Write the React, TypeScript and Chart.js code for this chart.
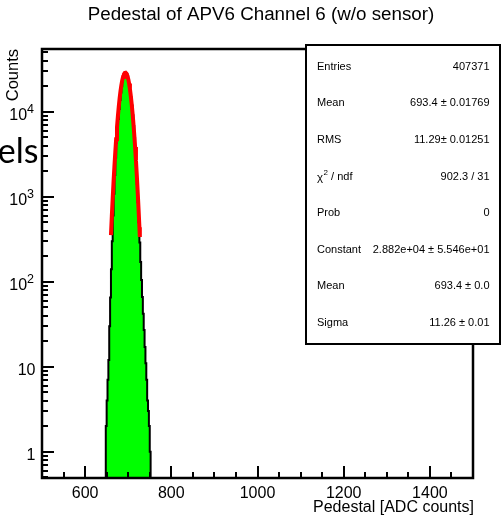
import React, { useEffect, useRef } from "react";
import { Chart, registerables } from "chart.js";

Chart.register(...registerables);

const titleText = "Pedestal of APV6 Channel 6 (w/o sensor)";
const xTitle = "Pedestal [ADC counts]";
const yTitle = "Counts";
const sideText = "els";

const xMin = 500;
const xMax = 1500;
const yMin = 0.49;
const yMax = 54700;

const xMajorTicks = [600, 800, 1000, 1200, 1400];
const xMinorTicks = [550, 650, 700, 750, 850, 900, 950, 1050, 1100, 1150, 1250, 1300, 1350, 1450];
const yMajorTicks = [1, 10, 100, 1000, 10000];
const yTickBase = ["1", "10", "10", "10", "10"];
const yTickExp = ["", "", "2", "3", "4"];

// histogram: lower bin edge + width, counts per bin
const binLow = 648;
const binWidth = 2;
const binCounts = [
  2, 4, 7, 12, 30, 65, 140, 300, 600, 1080,
  1800, 2900, 4300, 6100, 8200, 10800, 13700, 16800, 19900, 22900,
  25400, 27300, 28400, 28600, 27700, 26000, 23600, 20800, 17800, 14700,
  11800, 9100, 6800, 4900, 3400, 2250, 1420, 860, 500, 290,
  170, 105, 66, 42, 27, 17, 11, 7, 4, 3,
  2, 1,
];

// gaussian fit curve (sampled)
const fitX = [
  660, 662, 664, 666, 668, 670, 672, 674, 676, 678,
  680, 682, 684, 686, 688, 690, 692, 694, 696, 698,
  700, 702, 704, 706, 708, 710, 712, 714, 716, 718,
  720, 722, 724, 726, 727,
];
const fitY = [
  354, 590, 953, 1492, 2262, 3325, 4736, 6533, 8733, 11315,
  14195, 17263, 20339, 23224, 25690, 27535, 28598, 28780, 28062, 26512,
  24272, 21526, 18506, 15408, 12433, 9724, 7366, 5410, 3845, 2649,
  1770, 1144, 718, 436, 336,
];

const statLabels = ["Entries", "Mean", "RMS", "CHI2", "Prob", "Constant", "Mean", "Sigma"];
const statValues = [
  "407371",
  "693.4 \u00b1 0.01769",
  "11.29\u00b1 0.01251",
  "902.3 / 31",
  "0",
  "2.882e+04 \u00b1 5.546e+01",
  "693.4 \u00b1 0.0",
  "11.26 \u00b1 0.01",
];

const FONT = '"Liberation Sans", Arial, Helvetica, sans-serif';

const decorPlugin = {
  id: "decor",
  afterDatasetsDraw(chart: any) {
    const { ctx, chartArea: a, scales } = chart;
    const xs = scales.x;
    const ys = scales.y;
    ctx.save();
    ctx.strokeStyle = "#000";
    ctx.lineWidth = 2;
    // x ticks
    for (const v of xMajorTicks) {
      const px = Math.round(xs.getPixelForValue(v));
      ctx.beginPath();
      ctx.moveTo(px, a.bottom);
      ctx.lineTo(px, a.bottom - 12);
      ctx.stroke();
    }
    for (const v of xMinorTicks) {
      const px = Math.round(xs.getPixelForValue(v));
      ctx.beginPath();
      ctx.moveTo(px, a.bottom);
      ctx.lineTo(px, a.bottom - 6);
      ctx.stroke();
    }
    // y ticks (log)
    for (let e = -1; e <= 4; e++) {
      for (let k = 1; k <= 9; k++) {
        const v = k * Math.pow(10, e);
        if (v < yMin || v > yMax) continue;
        const py = Math.round(ys.getPixelForValue(v));
        ctx.beginPath();
        ctx.moveTo(a.left, py);
        ctx.lineTo(a.left + (k === 1 ? 12 : 6), py);
        ctx.stroke();
      }
    }
    // frame
    ctx.lineWidth = 2.5;
    ctx.strokeRect(a.left, a.top, a.right - a.left, a.bottom - a.top);
    ctx.restore();
  },
  afterDraw(chart: any) {
    const { ctx, chartArea: a, scales } = chart;
    const xs = scales.x;
    const ys = scales.y;
    ctx.save();
    ctx.fillStyle = "#000";

    // title
    ctx.font = `18.8px ${FONT}`;
    ctx.textAlign = "center";
    ctx.textBaseline = "alphabetic";
    ctx.fillText(titleText, 261, 20);

    // x tick labels
    ctx.font = `16px ${FONT}`;
    for (const v of xMajorTicks) {
      ctx.fillText(String(v), xs.getPixelForValue(v), 497.5);
    }
    // x title
    ctx.textAlign = "right";
    ctx.fillText(xTitle, a.right + 1, 511.5);

    // y tick labels
    for (let i = 0; i < yMajorTicks.length; i++) {
      const py = ys.getPixelForValue(yMajorTicks[i]);
      if (yTickExp[i]) {
        ctx.font = `12.5px ${FONT}`;
        const w = ctx.measureText(yTickExp[i]).width;
        ctx.textAlign = "right";
        ctx.fillText(yTickExp[i], 34, py + 1);
        ctx.font = `16px ${FONT}`;
        ctx.fillText(yTickBase[i], 34 - w, py + 8);
      } else {
        ctx.font = `16px ${FONT}`;
        ctx.textAlign = "right";
        ctx.fillText(yTickBase[i], 35.5, py + 8);
      }
    }

    // y title (rotated)
    ctx.save();
    ctx.translate(18, a.top);
    ctx.rotate(-Math.PI / 2);
    ctx.font = `16.5px ${FONT}`;
    ctx.textAlign = "right";
    ctx.fillText(yTitle, 0, 0);
    ctx.restore();

    // stray large text on the left
    ctx.font = `34px Lato, "Open Sans", sans-serif`;
    ctx.textAlign = "right";
    ctx.fillText(sideText, 38.5, 163);

    // stats box
    const bx = 306, by = 45, bw = 194, bh = 299;
    ctx.fillStyle = "#fff";
    ctx.fillRect(bx, by, bw, bh);
    ctx.strokeStyle = "#000";
    ctx.lineWidth = 2;
    ctx.strokeRect(bx, by, bw, bh);
    ctx.fillStyle = "#000";
    ctx.textBaseline = "middle";
    for (let i = 0; i < statLabels.length; i++) {
      const ry = 66.7 + 36.6 * i;
      ctx.font = `11px ${FONT}`;
      ctx.textAlign = "left";
      if (statLabels[i] === "CHI2") {
        ctx.font = `11.5px ${FONT}`;
        ctx.fillText("\u03c7", 317, ry + 1.5);
        const wc = ctx.measureText("\u03c7").width;
        ctx.font = `8px ${FONT}`;
        ctx.fillText("2", 317 + wc + 0.5, ry - 4);
        const w2 = ctx.measureText("2").width;
        ctx.font = `11px ${FONT}`;
        ctx.fillText(" / ndf", 317 + wc + 0.5 + w2, ry);
      } else {
        ctx.fillText(statLabels[i], 317, ry);
      }
      ctx.font = `11px ${FONT}`;
      ctx.textAlign = "right";
      ctx.fillText(statValues[i], 489.5, ry);
    }
    ctx.restore();
  },
};

export default function App() {
  const canvasRef = useRef<HTMLCanvasElement | null>(null);

  useEffect(() => {
    document.body.style.margin = "0";
    const canvas = canvasRef.current;
    if (!canvas) return;

    const histPoints: { x: number; y: number }[] = [];
    histPoints.push({ x: binLow, y: 0.1 });
    binCounts.forEach((c, i) => histPoints.push({ x: binLow + i * binWidth, y: c }));
    const hiEdge = binLow + binCounts.length * binWidth;
    histPoints.push({ x: hiEdge, y: binCounts[binCounts.length - 1] });
    histPoints.push({ x: hiEdge, y: 0.1 });

    const fitPoints = fitX.map((x, i) => ({ x, y: fitY[i] }));

    const chart = new Chart(canvas, {
      type: "line",
      data: {
        datasets: [
          {
            label: "fit",
            data: fitPoints,
            borderColor: "#ff0000",
            borderWidth: 4,
            pointRadius: 0,
            tension: 0,
            fill: false,
            order: 0,
          },
          {
            label: "hist",
            data: histPoints,
            borderColor: "#000000",
            backgroundColor: "#00ff00",
            borderWidth: 2,
            pointRadius: 0,
            stepped: "before",
            fill: "start",
            order: 1,
          },
        ],
      },
      options: {
        animation: false,
        responsive: false,
        maintainAspectRatio: false,
        devicePixelRatio: 1,
        parsing: true,
        layout: {
          autoPadding: false,
          padding: { left: 42, right: 29, top: 49, bottom: 38 },
        },
        scales: {
          x: { type: "linear", min: xMin, max: xMax, display: false },
          y: { type: "logarithmic", min: yMin, max: yMax, display: false },
        },
        plugins: {
          legend: { display: false },
          tooltip: { enabled: false },
          title: { display: false },
        },
      },
      plugins: [decorPlugin],
    } as any);

    return () => chart.destroy();
  }, []);

  return (
    <div style={{ position: "fixed", left: 0, top: 0, width: 502, height: 516, background: "#fff" }}>
      <canvas ref={canvasRef} width={502} height={516} style={{ display: "block", width: 502, height: 516 }} />
    </div>
  );
}
